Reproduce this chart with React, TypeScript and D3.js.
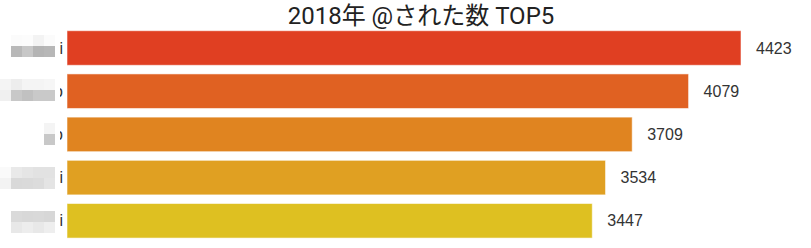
import React from "react";
import * as d3 from "d3";

const title = "2018年 @された数 TOP5";
const names = ["ayukari", "kitakuro", "yo", "asatomi", "chitomi"];
const counts = [4423, 4079, 3709, 3534, 3447];
const colors = ["#E03F22", "#E06122", "#E08420", "#E0A022", "#DEC021"];

const W = 811;
const H = 248;

export default function App() {
  const x = d3.scaleLinear().domain([0, d3.max(counts) as number]).range([67, 741]);
  const y = d3
    .scaleBand<string>()
    .domain(names)
    .range([26.4, 242.4])
    .paddingInner(0.2)
    .paddingOuter(0.1);
  const labelX = 63;
  const cut = 60;
  return (
    <svg
      width={W}
      height={H}
      style={{ position: "absolute", left: 0, top: 0, display: "block" }}
      fontFamily="'Liberation Sans', Arial, sans-serif"
    >
      <defs>
        <filter
          id="pix"
          filterUnits="userSpaceOnUse"
          primitiveUnits="userSpaceOnUse"
          x={0}
          y={2}
          width={cut}
          height={H}
        >
          <feGaussianBlur in="SourceGraphic" stdDeviation={2.6} result="b" />
          <feFlood x={5} y={7} width={1} height={1} floodColor="#000" />
          <feComposite width={11} height={11} />
          <feTile result="grid" />
          <feComposite in="b" in2="grid" operator="in" />
          <feMorphology operator="dilate" radius={5} />
        </filter>
        <clipPath id="crisp">
          <rect x={cut} y={0} width={20} height={H} />
        </clipPath>
      </defs>
      <rect width={W} height={H} fill="#fff" />
      <text
        x={421}
        y={24}
        textAnchor="middle"
        fontSize={24}
        fill="#222"
        fontFamily="Roboto, 'Noto Sans CJK JP', sans-serif"
      >
        {title}
      </text>
      {names.map((n, i) => {
        const yy = y(n) as number;
        const bw = y.bandwidth();
        return (
          <g key={n}>
            <rect
              x={x(0)}
              y={yy}
              width={x(counts[i]) - x(0)}
              height={bw}
              fill={colors[i]}
              stroke="rgba(255,255,255,0.55)"
              strokeWidth={1}
            />
            <text
              x={x(counts[i]) + 15}
              y={yy + bw / 2}
              dominantBaseline="central"
              fontSize={16}
              fill="#333"
            >
              {counts[i]}
            </text>
            <text
              x={labelX}
              y={yy + bw / 2}
              dominantBaseline="central"
              textAnchor="end"
              fontSize={16}
              fill="#333"
              filter="url(#pix)"
            >
              {n}
            </text>
            <text
              x={labelX}
              y={yy + bw / 2}
              dominantBaseline="central"
              textAnchor="end"
              fontSize={16}
              fill="#333"
              clipPath="url(#crisp)"
            >
              {n}
            </text>
          </g>
        );
      })}
    </svg>
  );
}
